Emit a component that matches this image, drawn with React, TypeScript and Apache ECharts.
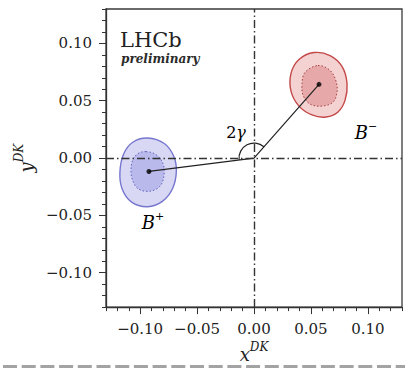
import React, { useEffect, useRef } from "react";
import * as echarts from "echarts";

// ---- data ----
const axisMin = -0.13;
const axisMax = 0.13;
const majorTicks = [-0.1, -0.05, 0.0, 0.05, 0.1];
const zeroRef = [0, 0];

const origin: [number, number] = [0, 0];
const bPlusPoint: [number, number] = [-0.0923, -0.0117];
const bMinusPoint: [number, number] = [0.0571, 0.0643];

const bPlusOuter: [number, number][] = [
  [-0.0935, 0.0175], [-0.0785, 0.0125], [-0.0705, 0.0015], [-0.0682, -0.0115],
  [-0.0715, -0.0265], [-0.0805, -0.0378], [-0.0935, -0.0425], [-0.1075, -0.0385],
  [-0.1158, -0.027], [-0.1178, -0.0125], [-0.1145, 0.0035], [-0.1065, 0.0138],
];
const bPlusInner: [number, number][] = [
  [-0.0949, 0.0056], [-0.0861, 0.003], [-0.08, -0.0047], [-0.0791, -0.0151],
  [-0.0826, -0.0246], [-0.0914, -0.0289], [-0.1011, -0.0272], [-0.1063, -0.0203],
  [-0.1081, -0.0108], [-0.1063, -0.0013], [-0.1019, 0.0039],
];
const bMinusOuter: [number, number][] = [
  [0.0527, 0.092], [0.0668, 0.0894], [0.0773, 0.0799], [0.0817, 0.0652],
  [0.08, 0.0505], [0.0738, 0.0402], [0.0633, 0.0358], [0.051, 0.0376],
  [0.0395, 0.0453], [0.0325, 0.0583], [0.0325, 0.0738], [0.0395, 0.0859],
];
const bMinusInner: [number, number][] = [
  [0.0562, 0.0807], [0.0668, 0.0764], [0.0721, 0.0669], [0.0729, 0.0574],
  [0.0694, 0.0488], [0.0598, 0.0453], [0.0492, 0.0471], [0.0431, 0.0548],
  [0.0422, 0.0652], [0.0448, 0.0747],
];

const FONT = "'DejaVu Serif', serif";
const TXT = "#222";

const fmt = (v: number) => (v < -1e-9 ? "\u2212" : "") + Math.abs(v).toFixed(2);

function contour(points: [number, number][], fill: string, stroke: string, width: number, dash: number[] | null, z: number) {
  return {
    type: "custom",
    xAxisIndex: 0,
    yAxisIndex: 0,
    z,
    silent: true,
    data: [points[0]],
    renderItem: (_p: any, api: any) => ({
      type: "polygon",
      shape: { points: points.map((p) => api.coord(p)), smooth: 0.36 },
      style: { fill, stroke, lineWidth: width, lineDash: dash || undefined },
    }),
  };
}

const nameRich = {
  i: { fontFamily: FONT, fontStyle: "italic", fontSize: 18, color: TXT, lineHeight: 22, verticalAlign: "bottom" },
  s: { fontFamily: FONT, fontStyle: "italic", fontSize: 12, color: TXT, lineHeight: 22, verticalAlign: "top" },
};

export default function App() {
  const ref = useRef<HTMLDivElement>(null);
  useEffect(() => {
    if (!ref.current) return;
    const chart = echarts.init(ref.current, null, { renderer: "svg" });
    const axisCommon = {
      type: "value",
      min: axisMin,
      max: axisMax,
      splitLine: { show: false },
    };
    const lineSt = { color: "#333", width: 1.3 };
    chart.setOption({
      animation: false,
      backgroundColor: "#fff",
      grid: { left: 106, top: 9, right: 3, bottom: 58, show: true, borderColor: "#3a3a3a", borderWidth: 1.3, backgroundColor: "#fff" },
      xAxis: [
        {
          ...axisCommon,
          interval: 0.01,
          position: "bottom",
          axisLine: { show: true, onZero: false, lineStyle: lineSt },
          axisTick: { show: true, length: 4, lineStyle: { color: "#333", width: 1 } },
          axisLabel: { customValues: majorTicks, formatter: fmt, margin: 14, fontFamily: FONT, fontSize: 15, color: TXT },
          name: "{i|x}{s|DK}",
          nameLocation: "middle",
          nameGap: 27,
          nameTextStyle: { rich: nameRich },
        },
        {
          ...axisCommon,
          position: "bottom",
          axisLine: { show: false, onZero: false },
          axisTick: { show: true, length: 7, customValues: majorTicks, lineStyle: { color: "#333", width: 1 } },
          axisLabel: { show: false },
        },
      ],
      yAxis: [
        {
          ...axisCommon,
          interval: 0.01,
          position: "left",
          axisLine: { show: true, onZero: false, lineStyle: lineSt },
          axisTick: { show: true, length: 4, lineStyle: { color: "#333", width: 1 } },
          axisLabel: { customValues: majorTicks, formatter: fmt, margin: 14, fontFamily: FONT, fontSize: 15, color: TXT },
          name: "{i|y}{s|DK}",
          nameLocation: "middle",
          nameRotate: 90,
          nameGap: 69,
          nameTextStyle: { rich: nameRich },
        },
        {
          ...axisCommon,
          position: "left",
          axisLine: { show: false, onZero: false },
          axisTick: { show: true, length: 7, customValues: majorTicks, lineStyle: { color: "#333", width: 1 } },
          axisLabel: { show: false },
        },
      ],
      series: [
        contour(bPlusOuter, "#d8d8f5", "#7676cf", 1.4, null, 1),
        contour(bPlusInner, "#b9b9ec", "#6262c0", 1, [1.5, 2], 2),
        contour(bMinusOuter, "#f4d2d2", "#c44848", 1.4, null, 1),
        contour(bMinusInner, "#e6a8a8", "#a83e3e", 1, [1.5, 2], 2),
        {
          type: "line",
          data: [],
          z: 3,
          markLine: {
            silent: true,
            symbol: "none",
            label: { show: false },
            lineStyle: { color: "#333", width: 1.4, type: [8, 3, 1.5, 3] },
            data: [{ xAxis: zeroRef[0] }, { yAxis: zeroRef[1] }],
          },
        },
        {
          type: "line",
          data: [bMinusPoint, origin, bPlusPoint],
          showSymbol: false,
          z: 4,
          lineStyle: { color: "#222", width: 1.2 },
        },
        {
          type: "custom",
          z: 4,
          silent: true,
          data: [origin],
          renderItem: (_p: any, api: any) => {
            const o = api.coord(origin);
            const pm = api.coord(bMinusPoint);
            const pp = api.coord(bPlusPoint);
            const a0 = Math.atan2(pm[1] - o[1], pm[0] - o[0]);
            const a1 = Math.atan2(pp[1] - o[1], pp[0] - o[0]) - 2 * Math.PI;
            return {
              type: "arc",
              shape: { cx: o[0], cy: o[1], r: 15, startAngle: a0, endAngle: a1, clockwise: false },
              style: { stroke: "#222", fill: "none", lineWidth: 1.2 },
            };
          },
        },
        {
          type: "scatter",
          data: [bPlusPoint, bMinusPoint],
          symbolSize: 5,
          z: 5,
          itemStyle: { color: "#000" },
        },
      ],
      graphic: [
        { type: "text", x: 120, y: 29, style: { text: "LHCb", font: `21px ${FONT}`, fill: TXT } },
        { type: "text", x: 121, y: 53, style: { text: "preliminary", font: `italic bold 12px ${FONT}`, fill: "#2a2a2a" } },
        {
          type: "text", x: 236, y: 132,
          style: {
            text: "{a|2}{b|γ}", align: "center", verticalAlign: "middle",
            rich: { a: { fontFamily: FONT, fontSize: 16, color: TXT }, b: { fontFamily: FONT, fontStyle: "italic", fontSize: 16, color: TXT } },
          },
        },
        {
          type: "text", x: 153, y: 221,
          style: {
            text: "{b|B}{s|+}", align: "center", verticalAlign: "middle",
            rich: { b: { fontFamily: FONT, fontStyle: "italic", fontSize: 18, color: TXT, lineHeight: 20, verticalAlign: "bottom" }, s: { fontFamily: FONT, fontSize: 11, color: TXT, lineHeight: 20, verticalAlign: "top" } },
          },
        },
        {
          type: "text", x: 366, y: 131,
          style: {
            text: "{b|B}{s|\u2212}", align: "center", verticalAlign: "middle",
            rich: { b: { fontFamily: FONT, fontStyle: "italic", fontSize: 18, color: TXT, lineHeight: 20, verticalAlign: "bottom" }, s: { fontFamily: FONT, fontSize: 11, color: TXT, lineHeight: 20, verticalAlign: "top" } },
          },
        },
        {
          type: "line", shape: { x1: 3, y1: 366.5, x2: 405, y2: 366.5 },
          style: { stroke: "#a3a3a3", lineWidth: 3, lineDash: [14, 4.7] },
        },
      ],
    });
    return () => chart.dispose();
  }, []);
  return <div ref={ref} style={{ position: "fixed", left: 0, top: 0, width: 405, height: 368 }} />;
}
